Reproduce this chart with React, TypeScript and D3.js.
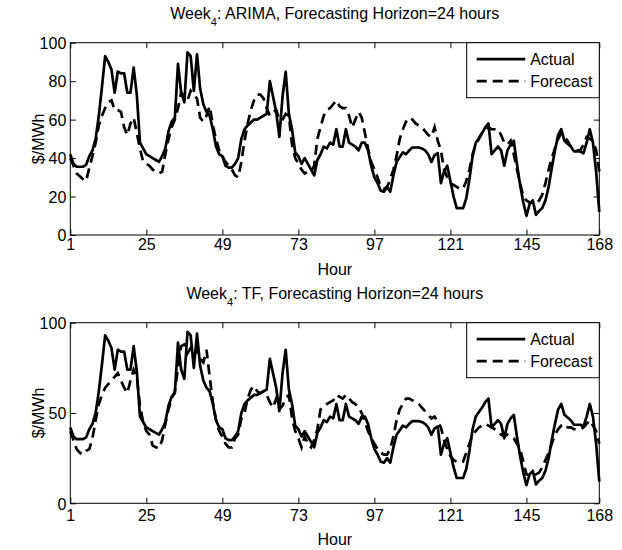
import React, { useEffect, useRef } from 'react';
import * as d3 from 'd3';

// week 4 hourly prices ($/MWh), hour 1..168
const actual = [
  42, 37, 35.5, 35.5, 35.5, 36.5, 41, 44, 50, 62, 77, 93,
  90, 86, 74, 85, 84, 84, 74, 74, 87, 73, 48, 45,
  42, 41, 40, 39, 38, 41, 45, 54, 59, 61, 89, 74,
  69, 95, 93, 75, 94, 76, 68, 64, 62, 55, 46, 42,
  41, 36, 35, 35, 37, 40, 50, 55, 57, 58.5, 60, 60,
  61, 62, 63, 80, 72, 64, 51, 72, 85, 63, 55, 43,
  41, 37, 40, 37, 34, 31, 39, 42, 46, 45, 48, 47,
  55, 46, 46, 55, 48, 47, 46, 44, 48, 48, 44, 36,
  30, 27, 23, 22.5, 25, 22.5, 31, 38, 40.5, 43, 42, 44,
  45.5, 45.5, 45.5, 45, 44, 42, 38, 41.5, 42.5, 27, 33, 36,
  28, 20, 14, 14, 14, 19, 29, 41, 48, 50.5, 53, 56,
  58, 42, 44, 46, 44, 36, 44, 47, 49, 37, 26, 17,
  10, 16, 18, 10.5, 12.5, 14, 18, 25, 35, 44, 52, 55,
  49, 47.5, 46, 43.5, 43.5, 43.5, 42.5, 48, 55, 48, 33, 12
];

const arimaForecast = [
  40, 36, 32, 30.5, 29, 28, 35, 41, 48, 57, 62, 66,
  69, 70, 65, 65, 64, 56, 52, 58, 61, 53, 45, 38,
  37, 36, 34, 33, 32, 33, 42, 50, 56, 60, 66, 74,
  72, 70, 75, 73, 71, 61, 59, 62, 67, 57, 50, 44,
  41, 38, 36, 34, 31, 30, 38, 49, 58, 65, 70, 73,
  73, 71, 66, 62, 64, 65, 60, 60, 63, 62, 47, 40,
  37, 34, 32, 33, 33, 36, 50, 56, 62, 65, 66, 68,
  70, 67, 66, 66, 62, 56, 60, 64, 61, 53, 45, 38,
  34, 30, 25, 24, 25, 29, 34, 41, 50, 55, 59, 61,
  60, 58, 57, 56, 54, 52, 51, 56, 49, 44, 34, 30,
  27, 26, 25, 24, 24, 28, 34, 42, 47, 50, 53, 54,
  56, 55, 55, 55, 52, 48, 47, 49, 42, 34, 27, 20,
  18, 17, 17, 16, 18, 21, 27, 34, 40, 45, 50, 53,
  51, 49, 46, 45, 44, 44, 47, 51, 50, 49, 44, 33
];

const tfForecast = [
  40, 35, 30, 28, 27, 29, 30, 36, 46, 55, 60, 64,
  66, 68, 70, 72, 68, 64, 61, 68, 74, 70, 54, 45,
  40, 38, 32, 31, 30.5, 35, 44, 52, 58, 62, 75, 87,
  88, 83, 86, 82, 85, 80, 78, 85, 70, 56, 46, 40,
  37, 33, 31, 31, 36, 38, 47, 50, 58, 63, 65, 62,
  61, 62, 60, 56, 53, 58, 52, 54, 58, 60, 47, 40,
  36, 31, 37, 33, 31, 35, 41, 52, 54, 55, 56, 57,
  60, 59, 58, 60, 58, 56, 55, 53, 50, 45, 40, 36,
  33, 30, 28, 27, 27, 30, 37, 46, 52, 55, 58, 58,
  57, 56, 55, 53, 51, 49, 47, 48, 45, 42, 35, 30,
  26, 24, 23, 23, 23, 28, 33, 38, 40, 42, 43, 44,
  43, 42, 41, 40, 38, 37, 38, 37, 36, 33, 30, 23,
  16, 15.5, 15, 16, 17, 20, 24, 28, 33, 38, 41, 43,
  44, 42, 42, 41, 41, 41, 42, 44, 46, 43, 40, 33
];

const xTicks = [1, 25, 49, 73, 97, 121, 145, 168];
const arimaYTicks = [0, 20, 40, 60, 80, 100];
const tfYTicks = [0, 50, 100];
const legendLabels = ['Actual', 'Forecast'];

const FONT = '"Liberation Sans", Arial, Helvetica, sans-serif';
const LEFT = 70.3;
const RIGHT = 599.3;
const TICK = 5.5;
const DASH = '10,6';

const drawPanel = (svg, cfg) => {
  const { top, bottom, yTicks, forecast, title, labelY, hourY } = cfg;
  const x = d3.scaleLinear().domain([1, 168]).range([LEFT, RIGHT]);
  const y = d3.scaleLinear().domain([0, 100]).range([bottom, top]);
  const g = svg.append('g')
    .attr('font-family', FONT)
    .attr('font-size', 16)
    .attr('fill', '#000');

  // title with subscript
  const t = g.append('text')
    .attr('x', (LEFT + RIGHT) / 2)
    .attr('y', top - 24)
    .attr('text-anchor', 'middle');
  t.append('tspan').text('Week');
  t.append('tspan').attr('dy', 7).attr('font-size', 11).text('4');
  t.append('tspan').attr('dy', -7).text(': ' + title);

  // series
  const line = d3.line<number>()
    .x((d, i) => x(i + 1))
    .y(d => y(d));
  g.append('path')
    .datum(actual)
    .attr('d', line)
    .attr('fill', 'none')
    .attr('stroke', '#000')
    .attr('stroke-width', 2.7)
    .attr('stroke-linejoin', 'round');
  g.append('path')
    .datum(forecast)
    .attr('d', line)
    .attr('fill', 'none')
    .attr('stroke', '#000')
    .attr('stroke-width', 2.7)
    .attr('stroke-dasharray', DASH);

  // axes box
  g.append('rect')
    .attr('x', LEFT)
    .attr('y', top)
    .attr('width', RIGHT - LEFT)
    .attr('height', bottom - top)
    .attr('fill', 'none')
    .attr('stroke', '#000')
    .attr('stroke-width', 1);

  // ticks (inward, all four sides)
  const axisB = d3.axisBottom(x).tickValues(xTicks).tickSize(-TICK).tickPadding(0).tickFormat(d3.format('d'));
  const gb = g.append('g').attr('transform', `translate(0,${bottom})`).call(axisB);
  gb.select('.domain').remove();
  gb.selectAll('text')
    .attr('y', labelY - bottom)
    .attr('dy', 0)
    .attr('font-size', 16)
    .attr('font-family', FONT);
  const axisT = d3.axisTop(x).tickValues(xTicks).tickSize(-TICK).tickFormat(() => '');
  const gt = g.append('g').attr('transform', `translate(0,${top})`).call(axisT);
  gt.select('.domain').remove();

  const axisL = d3.axisLeft(y).tickValues(yTicks).tickSize(-TICK).tickPadding(0).tickFormat(d3.format('d'));
  const gl = g.append('g').attr('transform', `translate(${LEFT},0)`).call(axisL);
  gl.select('.domain').remove();
  gl.selectAll('text')
    .attr('x', -4)
    .attr('dy', '0.36em')
    .attr('font-size', 16)
    .attr('font-family', FONT);
  const axisR = d3.axisRight(y).tickValues(yTicks).tickSize(-TICK).tickFormat(() => '');
  const gr = g.append('g').attr('transform', `translate(${RIGHT},0)`).call(axisR);
  gr.select('.domain').remove();
  g.selectAll('.tick line').attr('stroke', '#000');

  // axis titles
  g.append('text')
    .attr('x', (LEFT + RIGHT) / 2)
    .attr('y', hourY)
    .attr('text-anchor', 'middle')
    .text('Hour');
  g.append('text')
    .attr('transform', `translate(44,${(top + bottom) / 2}) rotate(-90)`)
    .attr('text-anchor', 'middle')
    .text('$/MWh');

  // legend
  const lx = 466.7;
  const lg = g.append('g').attr('transform', `translate(${lx},${top})`);
  lg.append('rect')
    .attr('width', RIGHT - lx)
    .attr('height', 55)
    .attr('fill', '#fff')
    .attr('stroke', '#000')
    .attr('stroke-width', 1);
  legendLabels.forEach((name, i) => {
    const ly = 16.5 + i * 22;
    lg.append('line')
      .attr('x1', 10)
      .attr('x2', 58.5)
      .attr('y1', ly)
      .attr('y2', ly)
      .attr('stroke', '#000')
      .attr('stroke-width', 2.7)
      .attr('stroke-dasharray', i === 1 ? DASH : null);
    lg.append('text')
      .attr('x', 63.5)
      .attr('y', ly + 6)
      .text(name);
  });
};

export default function App () {
  const ref = useRef<SVGSVGElement>(null);

  useEffect(() => {
    const svg = d3.select(ref.current);
    svg.selectAll('*').remove();
    drawPanel(svg, {
      top: 42.7,
      bottom: 235,
      yTicks: arimaYTicks,
      forecast: arimaForecast,
      title: 'ARIMA, Forecasting Horizon=24 hours',
      labelY: 250,
      hourY: 275
    });
    drawPanel(svg, {
      top: 322.7,
      bottom: 503.3,
      yTicks: tfYTicks,
      forecast: tfForecast,
      title: 'TF, Forecasting Horizon=24 hours',
      labelY: 521,
      hourY: 545
    });
  }, []);

  return (
    <svg
      ref={ref}
      width={622}
      height={550}
      style={{ position: 'absolute', left: 0, top: 0, background: '#fff' }}
    />
  );
}
